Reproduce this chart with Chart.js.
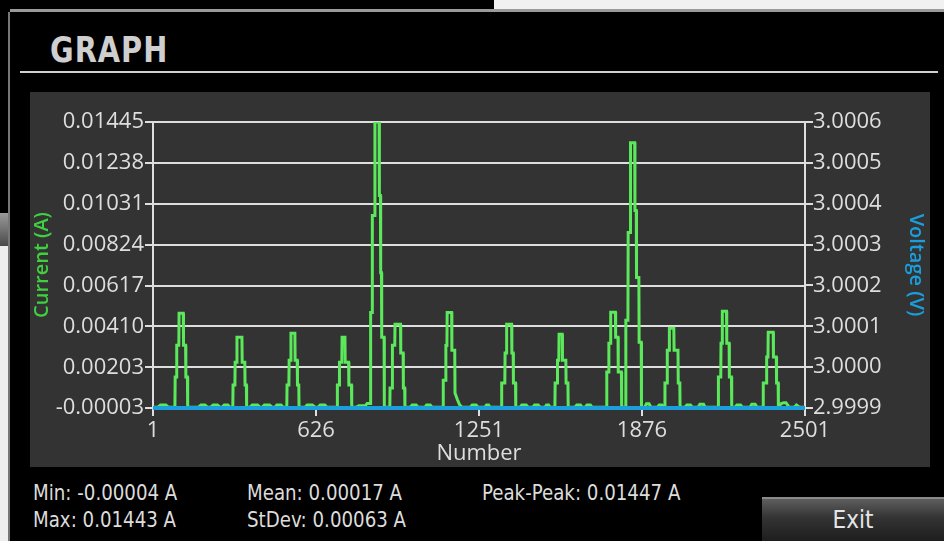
<!DOCTYPE html>
<html lang="en">

    <head>
        <meta charset="UTF-8">
        <title>GRAPH</title>

        <script src="https://cdn.jsdelivr.net/npm/chart.js"></script>

        <style>
            body {
                margin: 0;
                width: 944px;
                height: 541px;
                background: #000;
                position: relative;
                overflow: hidden;
                font-family: "Open Sans", sans-serif;
            }

            .edge-top {
                position: absolute;
                left: 494px;
                top: 0;
                width: 450px;
                height: 9px;
                background: #f1f1f1;
            }

            .edge-line {
                position: absolute;
                left: 10px;
                top: 9px;
                right: 0;
                height: 3px;
                background: #9a9a9a;
            }

            .edge-left {
                position: absolute;
                left: 8px;
                top: 12px;
                width: 2px;
                bottom: 0;
                background: #777;
            }

            .edge-btn {
                position: absolute;
                left: 0;
                top: 213px;
                width: 8px;
                height: 33px;
                background: linear-gradient(#9a9a9a, #4a4a4a);
            }

            .edge-white {
                position: absolute;
                left: 0;
                top: 246px;
                width: 8px;
                bottom: 0;
                background: #eeeeee;
            }

            .title {
                position: absolute;
                left: 50px;
                top: 28px;
                font-family: "DejaVu Sans Condensed", "DejaVu Sans", sans-serif;
                font-weight: bold;
                font-size: 32px;
                color: #cfcfcf;
                letter-spacing: 1px;
                transform: scaleY(1.12);
                transform-origin: left top;
            }

            .rule {
                position: absolute;
                left: 20px;
                top: 71px;
                width: 918px;
                height: 2px;
                background: #d0d0d0;
            }

            .panel {
                position: absolute;
                left: 30px;
                top: 92px;
                width: 900px;
                height: 375px;
                background: #333333;
            }

            .stat {
                position: absolute;
                font-family: "Liberation Sans Narrow", "DejaVu Sans Condensed", "Open Sans", sans-serif;
                font-size: 22px;
                color: #dcdcdc;
                white-space: nowrap;
                transform: scaleX(0.92);
                transform-origin: left center;
            }

            .exit {
                position: absolute;
                left: 762px;
                top: 497px;
                width: 182px;
                height: 44px;
                border-top: 2px solid #8a8a8a;
                background: linear-gradient(#5e5e5e, #333 45%, #1e1e1e);
                color: #e6e6e6;
                font-family: "Liberation Sans Narrow", "DejaVu Sans Condensed", "Open Sans", sans-serif;
                font-size: 24px;
                line-height: 42px;
                text-align: center;
                box-sizing: border-box;
            }
        </style>
    </head>

    <body>

        <div class="edge-top"></div>
        <div class="edge-line"></div>
        <div class="edge-btn"></div>
        <div class="edge-white"></div>
        <div class="edge-left"></div>

        <div class="title">GRAPH</div>
        <div class="rule"></div>

        <div class="panel">
            <canvas id="graph"></canvas>
        </div>

        <!-- statistics under the graph -->
        <div class="stat" style="left:33px; top:480px;">Min: -0.00004 A</div>
        <div class="stat" style="left:33px; top:507px;">Max: 0.01443 A</div>
        <div class="stat" style="left:247px; top:480px;">Mean: 0.00017 A</div>
        <div class="stat" style="left:247px; top:507px;">StDev: 0.00063 A</div>
        <div class="stat" style="left:482px; top:480px;">Peak-Peak: 0.01447 A</div>

        <div class="exit">Exit</div>

        <script>
            // tick values
            const xTicks = [1, 626, 1251, 1876, 2501];
            const currentTicks = [-0.00003, 0.00203, 0.00410, 0.00617, 0.00824, 0.01031, 0.01238, 0.01445];
            const voltageTicks = [2.9999, 3.0000, 3.0001, 3.0002, 3.0003, 3.0004, 3.0005, 3.0006];

            // current trace (sample number, amps)
            const sampleNo = [
                1, 20, 30, 50, 60,
                85, 86, 91, 92, 100, 101, 117, 118, 126, 127, 133, 134,
                175, 185, 200, 210, 222, 232, 248, 258, 266, 274, 288, 296,
                307, 308, 315, 316, 322, 323, 342, 343, 353, 354, 359, 360,
                373, 382, 402, 411, 420, 428, 448, 457, 469, 476, 492, 500,
                514, 515, 522, 523, 529, 530, 545, 546, 554, 555, 560, 561,
                584, 592, 612, 622, 634, 642, 660, 668,
                707, 708, 715, 716, 725, 726, 737, 738, 751, 752, 762, 763,
                780, 790, 815, 822, 834,
                835, 836, 841, 842, 851, 852, 868, 869, 873, 874, 877, 878, 887, 888,
                909, 910, 918, 919, 928, 929, 950, 951, 960, 961, 966, 967,
                987, 995, 1010, 1017, 1044, 1050, 1064, 1071,
                1113, 1114, 1123, 1124, 1128, 1129, 1146, 1147, 1158, 1159, 1168, 1176, 1185,
                1217, 1225, 1240, 1247, 1274, 1280, 1288, 1293,
                1337, 1338, 1350, 1351, 1356, 1357, 1376, 1377, 1382, 1383, 1391, 1392,
                1408, 1415, 1432, 1439, 1458, 1464, 1478, 1485, 1504, 1510, 1518, 1523,
                1542, 1543, 1551, 1552, 1557, 1558, 1570, 1571, 1584, 1585, 1592, 1593,
                1619, 1626, 1640, 1646, 1658, 1665, 1678, 1684,
                1740, 1741, 1748, 1749, 1755, 1756, 1774, 1775, 1784, 1785, 1797, 1798,
                1813, 1814, 1822, 1823, 1831, 1832, 1848, 1849, 1854, 1855, 1864, 1865, 1873, 1874,
                1887, 1893, 1903, 1910, 1935, 1942, 1952, 1958,
                1963, 1964, 1972, 1973, 1980, 1981, 1998, 1999, 2014, 2015, 2021, 2022,
                2041, 2048, 2062, 2068, 2091, 2098, 2112, 2118,
                2168, 2169, 2178, 2179, 2183, 2184, 2200, 2201, 2210, 2211, 2219, 2220,
                2233, 2240, 2254, 2260, 2290, 2297, 2310, 2317,
                2340, 2341, 2353, 2354, 2359, 2360, 2379, 2380, 2391, 2392, 2398, 2399,
                2410, 2420, 2428, 2440, 2460, 2468, 2480, 2501
            ];
            const current = [
                0.00001, 0.00001, 0.00012, 0.00012, 0.00001,
                0.00001, 0.00154, 0.00154, 0.00315, 0.00315, 0.00477, 0.00477, 0.00315, 0.00315, 0.00154, 0.00154, 0.00001,
                0.00001, 0.00012, 0.00012, 0.00001, 0.00001, 0.00012, 0.00012, 0.00001, 0.00001, 0.00012, 0.00012, 0.00001,
                0.00001, 0.00113, 0.00113, 0.00229, 0.00229, 0.00355, 0.00355, 0.00229, 0.00229, 0.00113, 0.00113, 0.00001,
                0.00001, 0.00012, 0.00012, 0.00001, 0.00001, 0.00012, 0.00012, 0.00001, 0.00001, 0.00012, 0.00012, 0.00001,
                0.00001, 0.00113, 0.00113, 0.00239, 0.00239, 0.00376, 0.00376, 0.00239, 0.00239, 0.00113, 0.00113, 0.00001,
                0.00001, 0.00012, 0.00012, 0.00001, 0.00001, 0.00012, 0.00012, 0.00001,
                0.00001, 0.00113, 0.00113, 0.00229, 0.00229, 0.00355, 0.00355, 0.00229, 0.00229, 0.00113, 0.00113, 0.00001,
                0.00001, 0.00008, 0.00008, 0.00020, 0.00020,
                0.00020, 0.00480, 0.00480, 0.00972, 0.00972, 0.01445, 0.01445, 0.01073, 0.01073, 0.00682, 0.00682, 0.00355, 0.00355, 0.00001,
                0.00001, 0.00098, 0.00098, 0.00315, 0.00315, 0.00421, 0.00421, 0.00275, 0.00275, 0.00098, 0.00098, 0.00001,
                0.00001, 0.00012, 0.00012, 0.00001, 0.00001, 0.00012, 0.00012, 0.00001,
                0.00001, 0.00137, 0.00137, 0.00313, 0.00313, 0.00480, 0.00480, 0.00290, 0.00290, 0.00073, 0.00040, 0.00015, 0.00001,
                0.00001, 0.00012, 0.00012, 0.00001, 0.00001, 0.00012, 0.00012, 0.00001,
                0.00001, 0.00123, 0.00123, 0.00275, 0.00275, 0.00421, 0.00421, 0.00275, 0.00275, 0.00123, 0.00123, 0.00001,
                0.00001, 0.00012, 0.00012, 0.00001, 0.00001, 0.00012, 0.00012, 0.00001, 0.00001, 0.00012, 0.00012, 0.00001,
                0.00001, 0.00123, 0.00123, 0.00239, 0.00239, 0.00371, 0.00371, 0.00239, 0.00239, 0.00123, 0.00123, 0.00001,
                0.00001, 0.00012, 0.00012, 0.00001, 0.00001, 0.00012, 0.00012, 0.00001,
                0.00001, 0.00179, 0.00179, 0.00325, 0.00325, 0.00482, 0.00482, 0.00355, 0.00355, 0.00179, 0.00179, 0.00001,
                0.00001, 0.00441, 0.00441, 0.00886, 0.00886, 0.01340, 0.01340, 0.00997, 0.00997, 0.00658, 0.00658, 0.00330, 0.00330, 0.00001,
                0.00001, 0.00018, 0.00018, 0.00001, 0.00001, 0.00012, 0.00012, 0.00001,
                0.00001, 0.00123, 0.00123, 0.00290, 0.00290, 0.00401, 0.00401, 0.00290, 0.00290, 0.00123, 0.00123, 0.00001,
                0.00001, 0.00012, 0.00012, 0.00001, 0.00001, 0.00016, 0.00016, 0.00001,
                0.00001, 0.00154, 0.00154, 0.00325, 0.00325, 0.00487, 0.00487, 0.00325, 0.00325, 0.00154, 0.00154, 0.00001,
                0.00001, 0.00012, 0.00012, 0.00001, 0.00001, 0.00016, 0.00016, 0.00001,
                0.00001, 0.00123, 0.00123, 0.00255, 0.00255, 0.00381, 0.00381, 0.00255, 0.00255, 0.00123, 0.00123, 0.00001,
                0.00020, 0.00024, 0.00024, 0.00001, 0.00001, 0.00012, 0.00001, 0.00001
            ];

            // voltage source level, flat at the bottom of the right axis
            const voltageSampleNo = [1, 626, 1251, 1876, 2501];
            const voltage = [2.9999, 2.9999, 2.9999, 2.9999, 2.9999];

            const axisColor = '#dedede';
            const tickFont = { family: 'Open Sans', size: 22 };
            const titleFont = { family: 'Open Sans', size: 20, weight: '600' };

            const ctx = document.getElementById('graph').getContext('2d');

            new Chart(ctx, {
                type: 'line',
                data: {
                    datasets: [{
                        label: 'Voltage (V)',
                        data: voltageSampleNo.map((n, i) => ({ x: n, y: voltage[i] })),
                        yAxisID: 'yV',
                        borderColor: '#1b9fdc',
                        borderWidth: 4,
                        pointRadius: 0,
                        tension: 0,
                        clip: 4,
                        order: 0
                    }, {
                        label: 'Current (A)',
                        data: sampleNo.map((n, i) => ({ x: n, y: current[i] })),
                        yAxisID: 'yI',
                        borderColor: '#5be85b',
                        borderWidth: 3,
                        pointRadius: 0,
                        tension: 0,
                        order: 1
                    }]
                },
                options: {
                    responsive: true,
                    maintainAspectRatio: false,
                    animation: false,
                    layout: { padding: { top: 30, left: 0, right: 0, bottom: 0 } },
                    plugins: {
                        legend: { display: false },
                        tooltip: { enabled: false }
                    },
                    scales: {
                        x: {
                            type: 'linear',
                            min: 1,
                            max: 2501,
                            afterBuildTicks: s => { s.ticks = xTicks.map(v => ({ value: v })); },
                            afterFit: s => { s.height = 59; },
                            ticks: {
                                color: axisColor,
                                font: tickFont,
                                padding: 2,
                                maxRotation: 0,
                                callback: v => String(v)
                            },
                            grid: {
                                drawOnChartArea: false,
                                color: axisColor,
                                lineWidth: 2,
                                tickLength: 8
                            },
                            border: { display: true, color: axisColor, width: 2 },
                            title: {
                                display: true,
                                text: 'Number',
                                color: axisColor,
                                font: tickFont,
                                padding: { top: 0, bottom: 0 }
                            }
                        },
                        yI: {
                            type: 'linear',
                            position: 'left',
                            min: -0.00003,
                            max: 0.01445,
                            afterBuildTicks: s => { s.ticks = currentTicks.map(v => ({ value: v })); },
                            afterFit: s => { s.width = 123; },
                            ticks: {
                                color: axisColor,
                                font: tickFont,
                                padding: 1,
                                callback: v => v.toFixed(5)
                            },
                            grid: {
                                color: axisColor,
                                lineWidth: 2,
                                tickLength: 8
                            },
                            border: { display: true, color: axisColor, width: 2 },
                            title: {
                                display: true,
                                text: 'Current (A)',
                                color: '#3fcf3f',
                                font: titleFont,
                                padding: { top: 0, bottom: 0 }
                            }
                        },
                        yV: {
                            type: 'linear',
                            position: 'right',
                            min: 2.9999,
                            max: 3.0006,
                            afterBuildTicks: s => { s.ticks = voltageTicks.map(v => ({ value: v })); },
                            afterFit: s => { s.width = 125; },
                            ticks: {
                                color: axisColor,
                                font: tickFont,
                                padding: 0,
                                callback: v => v.toFixed(4)
                            },
                            grid: {
                                drawOnChartArea: false,
                                color: axisColor,
                                lineWidth: 2,
                                tickLength: 8
                            },
                            border: { display: true, color: axisColor, width: 2 },
                            title: {
                                display: true,
                                text: 'Voltage (V)',
                                color: '#1b9fdc',
                                font: titleFont,
                                padding: { top: 2, bottom: 0 }
                            }
                        }
                    }
                }
            });
        </script>

    </body>

</html>
